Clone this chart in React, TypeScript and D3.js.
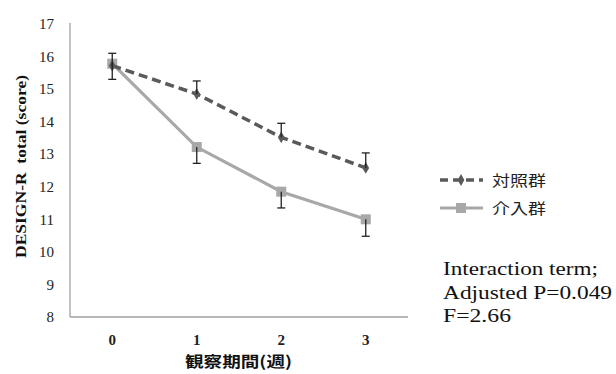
import React from 'react'
import * as d3 from 'd3'

const weeks = [0, 1, 2, 3]
const controlMean = [15.72, 14.85, 13.52, 12.58]
const controlErr = [0.38, 0.4, 0.43, 0.46]
const interventionMean = [15.78, 13.22, 11.85, 11.0]
const interventionErr = [0.48, 0.5, 0.5, 0.52]
const yTicks = [8, 9, 10, 11, 12, 13, 14, 15, 16, 17]
const legendLabels = ['対照群', '介入群']
const noteLines = ['Interaction term;', 'Adjusted P=0.049', 'F=2.66']
const noteWidths = [155, 169, 68]

export default function App() {
  const width = 616
  const height = 374
  const margin = { top: 24, left: 70, right: 208, bottom: 57 }
  const innerH = height - margin.top - margin.bottom

  const x = d3.scalePoint<number>()
    .domain(weeks)
    .range([margin.left, width - margin.right])
    .padding(0.5)
  const y = d3.scaleLinear().domain([8, 17]).range([margin.top + innerH, margin.top])

  const line = d3.line<number>()
    .x((_, i) => x(weeks[i]) as number)
    .y(d => y(d))

  const serif = 'Liberation Serif'
  const cjk = 'Noto Sans CJK JP'
  const dark = '#5a5a5a'
  const light = '#a8a8a8'

  const diamond = d3.symbol().type(d3.symbolDiamond).size(40)()

  return (
    <svg width={width} height={height} style={{ position: 'absolute', left: 0, top: 0, background: '#fff' }}>
      {/* axes */}
      <line x1={margin.left} x2={margin.left} y1={y(17) - 1} y2={y(8)} stroke="#a0a0a0" strokeWidth={1.3} />
      <line x1={margin.left} x2={width - margin.right} y1={y(8)} y2={y(8)} stroke="#a0a0a0" strokeWidth={1.3} />
      {yTicks.map(t => (
        <text key={t} x={54} y={y(t)} dy="0.35em" textAnchor="end" fontFamily={serif} fontSize={15} fill="#222">{t}</text>
      ))}
      {weeks.map(w => (
        <text key={w} x={x(w)} y={y(8) + 23} dy="0.35em" textAnchor="middle" fontFamily={serif} fontSize={15} fontWeight="bold" fill="#222">{w}</text>
      ))}
      <text x={185} y={367} textLength={107} lengthAdjust="spacingAndGlyphs" fontFamily={cjk} fontSize={15} fontWeight="bold" fill="#111">観察期間(週)</text>
      <text transform={`translate(26,258) rotate(-90)`} textLength={183} lengthAdjust="spacingAndGlyphs" fontFamily={serif} fontSize={15} fontWeight="bold" fill="#111" style={{ whiteSpace: 'pre' }}>DESIGN-R  total (score)</text>

      {/* intervention */}
      <path d={line(interventionMean) || ''} fill="none" stroke={light} strokeWidth={3.2} />
      {interventionMean.map((v, i) => (
        <rect key={i} x={(x(weeks[i]) as number) - 5} y={y(v) - 5} width={10} height={10} fill={light} />
      ))}
      {/* control */}
      <path d={line(controlMean) || ''} fill="none" stroke={dark} strokeWidth={3.5} strokeDasharray="9,5" />
      {controlMean.map((v, i) => (
        <path key={i} d={diamond || ''} transform={`translate(${x(weeks[i])},${y(v)})`} fill={dark} />
      ))}

      {/* error bars */}
      {controlMean.map((v, i) => {
        const cx = x(weeks[i]) as number
        return (
          <g key={'ce' + i} stroke="#222" strokeWidth={1.3}>
            <line x1={cx} x2={cx} y1={y(v)} y2={y(v + controlErr[i])} />
            <line x1={cx - 4} x2={cx + 4} y1={y(v + controlErr[i])} y2={y(v + controlErr[i])} />
          </g>
        )
      })}
      {interventionMean.map((v, i) => {
        const cx = x(weeks[i]) as number
        return (
          <g key={'ie' + i} stroke="#222" strokeWidth={1.3}>
            <line x1={cx} x2={cx} y1={y(v)} y2={y(v - interventionErr[i])} />
            <line x1={cx - 4} x2={cx + 4} y1={y(v - interventionErr[i])} y2={y(v - interventionErr[i])} />
          </g>
        )
      })}

      {/* legend */}
      <g>
        <line x1={440} x2={483} y1={180} y2={180} stroke={dark} strokeWidth={3.5} strokeDasharray="8,5" />
        <path d={diamond || ''} transform="translate(461,180)" fill={dark} />
        <text x={492} y={180} dy="0.38em" textLength={54} lengthAdjust="spacingAndGlyphs" fontFamily={cjk} fontSize={15} fill="#222">{legendLabels[0]}</text>
        <line x1={440} x2={483} y1={208} y2={208} stroke={light} strokeWidth={3.2} />
        <rect x={456} y={203} width={10} height={10} fill={light} />
        <text x={492} y={208} dy="0.38em" textLength={54} lengthAdjust="spacingAndGlyphs" fontFamily={cjk} fontSize={15} fill="#222">{legendLabels[1]}</text>
      </g>

      {noteLines.map((t, i) => (
        <text key={i} x={443} y={275 + i * 23.5} textLength={noteWidths[i]} lengthAdjust="spacingAndGlyphs" fontFamily={serif} fontSize={19} fill="#111">{t}</text>
      ))}
    </svg>
  )
}
